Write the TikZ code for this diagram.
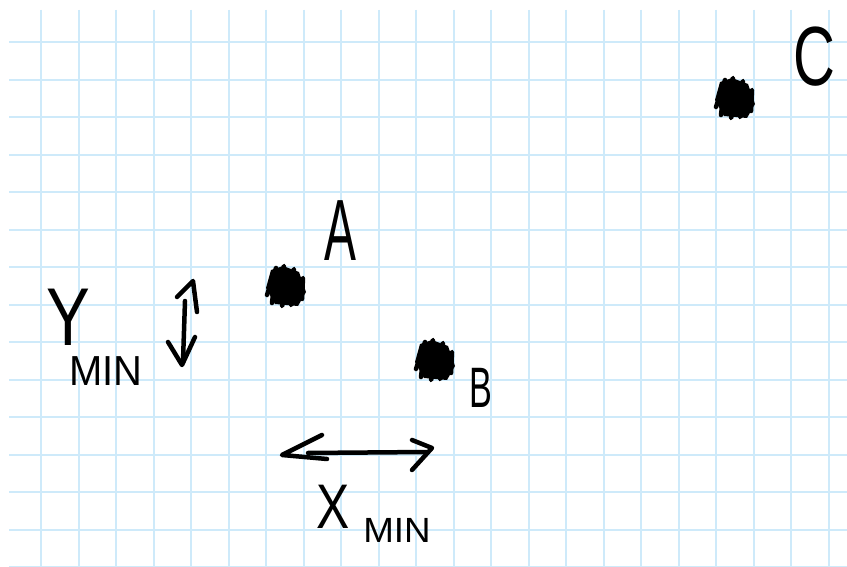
\documentclass[tikz,border=0pt]{standalone}
\usepackage{fontspec}
\usepackage{graphicx}
\setmainfont{Liberation Sans}
\definecolor{gridblue}{RGB}{206,234,250}
\tikzset{
  ink/.style={line width=4.5pt, line cap=round, line join=round, black},
  gridline/.style={gridblue, line width=2pt},
  lab/.style={inner sep=0pt, outer sep=0pt, text=black},
  scrib/.pic={
    \fill[black] (-15,-16) -- (-3,-20) -- (13,-14) -- (20,6) -- (12,20) -- (-11,18) -- (-20,2) -- cycle;
    \draw[ink] (-19,9) -- (-10,-18) -- (-14,17) -- (-2,-20) -- (-4,20) -- (8,-17) -- (5,19) -- (17,-8) -- (16,13);
  }
}
\begin{document}
\begin{tikzpicture}[x=1pt,y=-1pt]
  \useasboundingbox (0,0) rectangle (847,567);
  \fill[white] (0,0) rectangle (847,567);
  % grid
  \foreach \k in {0,...,14} {
    \draw[gridline] (9,42+37.52*\k) -- (847,42+37.52*\k);
  }
  \foreach \k in {0,...,21} {
    \draw[gridline] (41+37.52*\k,10) -- (41+37.52*\k,567);
  }
  % points
  \pic at (286,286) {scrib};
  \pic at (435,360) {scrib};
  \pic at (735,98) {scrib};
  % labels
  \node[lab, font=\fontsize{87}{87}\selectfont] (a) at (340,231) {\scalebox{0.55}[1]{A}};
  \node[lab, font=\fontsize{57}{57}\selectfont] (b) at (481,388) {\scalebox{0.6}[1]{B}};
  \node[lab, font=\fontsize{84}{84}\selectfont] (c) at (814,57) {\scalebox{0.69}[1]{C}};
  \node[lab, font=\fontsize{82}{82}\selectfont] (ylab) at (68,317) {\scalebox{0.8}[1]{Y}};
  \node[lab, font=\fontsize{42}{42}\selectfont] (ysub) at (106,371) {\scalebox{0.95}[1]{MIN}};
  \node[lab, font=\fontsize{63}{63}\selectfont] (xlab) at (333,507) {\scalebox{0.79}[1]{X}};
  \node[lab, font=\fontsize{35}{35}\selectfont] (xsub) at (397,530) {\scalebox{1.05}[1]{MIN}};
  % vertical arrow
  \coordinate (yt) at (193,281);
  \coordinate (yb) at (182,365);
  \coordinate (ys1) at (185,301);
  \coordinate (ys2) at (183,361);
  \draw[ink] (ys1) -- (ys2);
  \draw[ink] (yt) ++(-16,16) -- (yt) -- ++(4,31);
  \draw[ink] (yb) ++(-14,-23) -- (yb) -- ++(13,-28);
  % horizontal arrow
  \coordinate (xl) at (282,455);
  \coordinate (xr) at (432,448);
  \coordinate (xs1) at (308,453);
  \coordinate (xs2) at (427,452);
  \draw[ink] (xs1) -- (xs2);
  \draw[ink] (xl) ++(40,-20) -- (xl) -- ++(45,4);
  \draw[ink] (xr) ++(-20,-8) -- (xr) -- ++(-20,22);
\end{tikzpicture}
\end{document}
